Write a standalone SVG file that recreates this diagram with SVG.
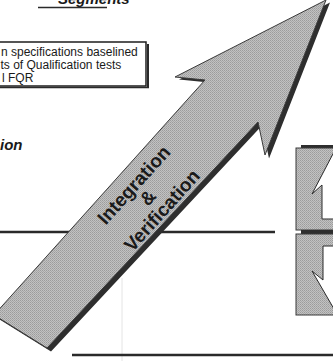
<svg xmlns="http://www.w3.org/2000/svg" width="333" height="361" viewBox="0 0 333 361">
  <defs>
    <!-- halftone-like grey fill -->
    <pattern id="halftone" width="2" height="2" patternUnits="userSpaceOnUse">
      <rect width="2" height="2" fill="#c2c2c2"/>
      <rect width="1" height="1" fill="#9c9c9c"/>
      <rect x="1" y="1" width="1" height="1" fill="#a8a8a8"/>
    </pattern>
    <style>
      .label { font-family: "Liberation Sans", Arial, sans-serif; fill: #1a1a1a; }
      .note { font-size: 12px; }
      .title { font-size: 15px; font-weight: bold; font-style: italic; }
      .arrowText { font-size: 19px; font-weight: bold; text-anchor: middle; }
      .rule { stroke: #2a2a2a; stroke-width: 2.5; fill: none; }
      .shade { fill: url(#halftone); stroke: #3a3a3a; stroke-width: 1; }
      .shadow { fill: #2e2e2e; }
      .hollow { fill: #ffffff; stroke: #2a2a2a; stroke-width: 1; }
    </style>
  </defs>

  <rect width="333" height="361" fill="#ffffff"/>

  <!-- faint scan line -->
  <line x1="122" y1="278" x2="122" y2="361" stroke="#e4e4e4" stroke-width="1"/>

  <!-- heading fragment -->
  <g id="segments-heading">
    <text class="label title" x="58" y="3.5">Segments</text>
    <line x1="38" y1="7.5" x2="107" y2="7.5" stroke="#2a2a2a" stroke-width="1.5"/>
  </g>

  <!-- note box -->
  <g id="note-box">
    <line x1="148" y1="44" x2="148" y2="88" stroke="#2a2a2a" stroke-width="2"/>
    <line x1="-5" y1="87.5" x2="149" y2="87.5" stroke="#2a2a2a" stroke-width="1.5"/>
    <rect x="-5" y="42" width="151" height="44" fill="#ffffff" stroke="#1e1e1e" stroke-width="1.5"/>
    <text class="label note" x="1" y="56">n specifications baselined</text>
    <text class="label note" x="0.5" y="69">ts of Qualification tests</text>
    <text class="label note" x="2" y="82">l FQR</text>
  </g>

  <!-- side heading fragment -->
  <g id="ion-heading">
    <text class="label title" x="0" y="150">ion</text>
  </g>

  <!-- connectors / rules -->
  <g id="connectors">
    <line class="rule" x1="0" y1="232" x2="275" y2="232"/>
    <line class="rule" x1="72" y1="355" x2="333" y2="355"/>
  </g>

  <!-- main diagonal arrow -->
  <g id="integration-arrow">
    <polygon class="shadow" points="328,1 177,78 207,81 -4,317 49,350 260,124 267,157" transform="translate(2,1.5)"/>
    <polygon class="shade" points="326,0 175,77 205,80 -6,315 47,348 258,122 265,155"/>
    <g transform="translate(146,196) rotate(-48)">
      <text class="label arrowText" x="0" y="-10">Integration</text>
      <text class="label arrowText" x="0" y="9">&amp;</text>
      <text class="label arrowText" x="0" y="28">Verification</text>
    </g>
  </g>

  <!-- upper side box with up arrow -->
  <g id="upper-box">
    <rect class="shadow" x="301" y="145" width="34" height="3.5"/>
    <rect class="shade" x="296" y="148" width="40" height="82"/>
    <polygon class="hollow" points="335,150 312,194 322,185 322,219 336,219"/>
  </g>

  <!-- lower side box with down arrow -->
  <g id="lower-box">
    <rect class="shadow" x="301" y="230" width="34" height="4"/>
    <rect class="shade" x="296" y="234" width="40" height="81"/>
    <polygon class="hollow" points="336,246 323,246 323,280 312,271 334,309 336,309"/>
  </g>
</svg>
